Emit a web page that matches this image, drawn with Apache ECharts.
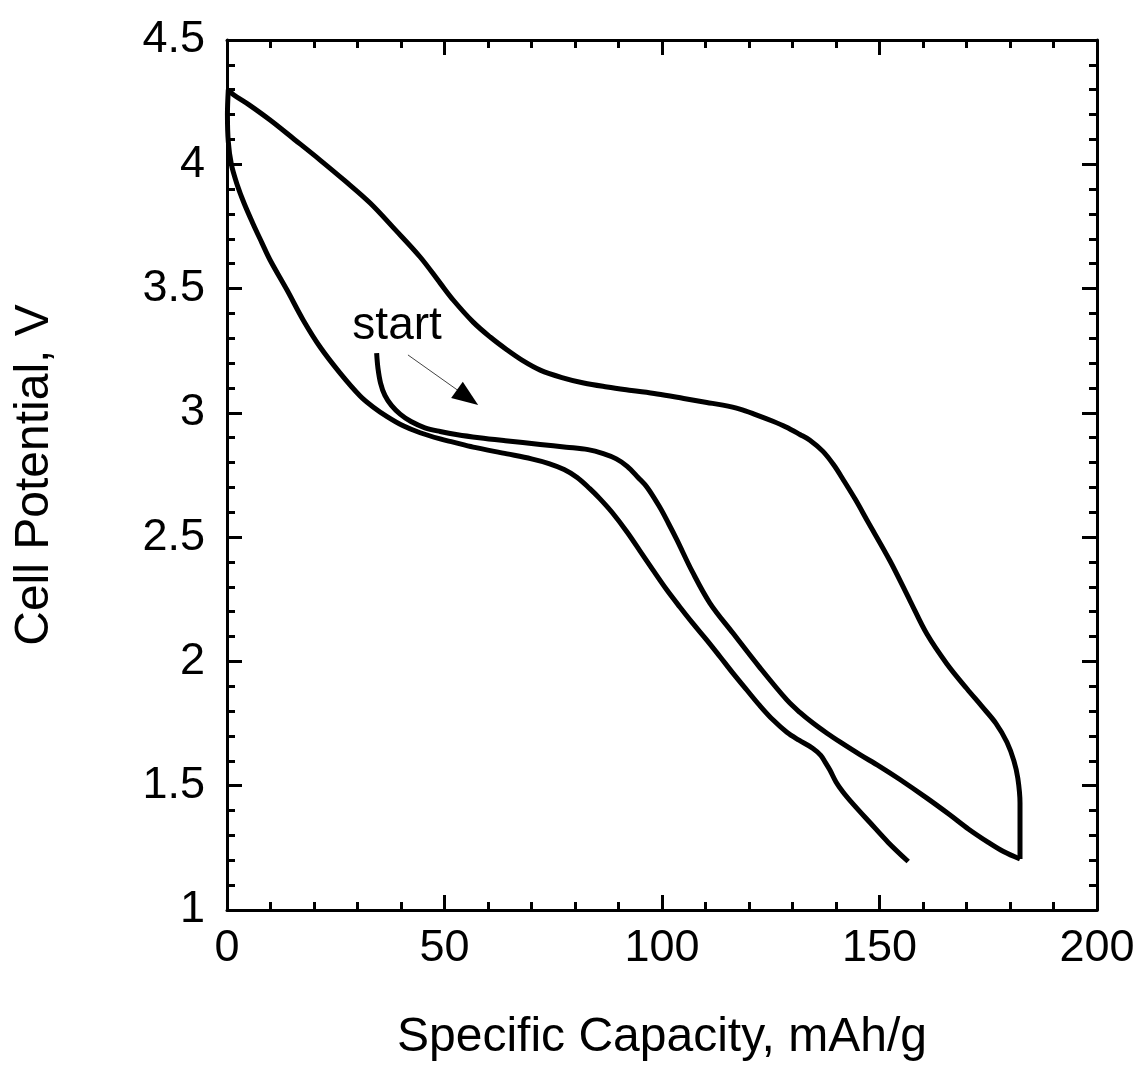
<!DOCTYPE html>
<html>
<head>
<meta charset="utf-8">
<script src="https://cdn.jsdelivr.net/npm/echarts@6/dist/echarts.min.js"></script>
<style>
html,body{margin:0;padding:0;background:#fff;}
#chart{width:1143px;height:1067px;}
</style>
</head>
<body>
<div id="chart"></div>
<script>
// First discharge (from "start")
const discharge1 = [
  [34.4,3.24],[34.7,3.18],[35.3,3.12],[36.3,3.07],[37.8,3.03],[39.8,2.995],[42.3,2.965],[45.5,2.94],
  [49,2.925],[53,2.912],[58,2.90],[64,2.888],[72,2.873],[78,2.862],[83,2.852],[86.5,2.836],[89.5,2.815],
  [92,2.785],[94.5,2.74],[96.6,2.70],[99.5,2.62],[101.5,2.555],[103.4,2.49],[107,2.36],[111,2.235],[116.3,2.114],
  [122.5,1.975],[128.7,1.845],[131.7,1.795],[134.7,1.752],[138,1.71],[141,1.675],[145.5,1.625],[150,1.578],
  [154.7,1.525],[160.9,1.45],[166,1.385],[170.5,1.325],[175,1.272],[178.5,1.235],[182.3,1.205]
];
// Charge
const charge = [
  [182.3,1.205],[182.3,1.30],[182.3,1.43],[181.8,1.53],[180.9,1.60],[179.3,1.675],[176.8,1.75],[173.5,1.82],
  [170.1,1.89],[165.5,1.99],[160.9,2.11],[157,2.245],[152.4,2.405],[147.1,2.569],[144.5,2.65],[141.7,2.73],
  [139.5,2.79],[137,2.845],[134,2.89],[131.7,2.913],[128.5,2.943],[125.5,2.966],[121.5,2.993],[117.9,3.015],
  [114,3.031],[110.3,3.042],[105,3.058],[98.9,3.076],[93,3.09],[87.4,3.104],[82,3.12],[77,3.142],[72,3.172],
  [68,3.21],[64.4,3.253],[60.5,3.305],[56.6,3.365],[52,3.454],[49,3.522],[44.4,3.627],[38.5,3.74],[32.9,3.844],
  [27,3.935],[21.4,4.017],[15.5,4.10],[9.9,4.178],[5,4.24],[1.5,4.28],[0.3,4.30]
];
// Second discharge
const discharge2 = [
  [0.3,4.30],[0.1,4.2],[0.3,4.09],[1,4.0],[2.3,3.92],[4,3.84],[6,3.76],[8,3.685],[9.9,3.615],[13.8,3.494],
  [17.5,3.374],[21.4,3.265],[26,3.16],[30.6,3.068],[33.5,3.025],[36.8,2.985],[40.5,2.948],[44.4,2.92],[49,2.895],
  [52,2.882],[56.6,2.862],[64.4,2.835],[70,2.815],[74,2.796],[77.5,2.772],[80.5,2.74],[83.4,2.695],[85.7,2.655],
  [88.5,2.60],[92,2.52],[95,2.443],[97.9,2.368],[101,2.29],[104.1,2.219],[107,2.155],[110.3,2.086],[113.3,2.02],
  [116.3,1.953],[119.5,1.885],[122.5,1.822],[125.5,1.765],[128.7,1.715],[131.5,1.683],[134.7,1.65],[136.5,1.622],
  [137.5,1.595],[138.6,1.563],[140,1.515],[141.6,1.475],[144,1.425],[147.8,1.352],[152,1.272],[156.6,1.195]
];
// Annotation
const startLabel = ['start', 39.1, 3.35];
const arrowShaft = [[41.6,3.233],[53.6,3.084]];
const arrowHead = [55.3,3.062];

const xTitle = 'Specific Capacity, mAh/g';
const yTitle = 'Cell Potential, V';

const FONT = 'Liberation Sans, Arial, Helvetica, sans-serif';
const chart = echarts.init(document.getElementById('chart'), null, {renderer:'canvas'});

const tickCommon = {inside:true, length:15, lineStyle:{color:'#000', width:3}};
const minorCommon = {show:true, splitNumber:5, length:8, lineStyle:{color:'#000', width:3}};

function lineSeries(name, data, extra) {
  return Object.assign({
    name, type:'line', data, symbol:'none', smooth:0.35,
    lineStyle:{color:'#000', width:5, join:'round'},
    xAxisIndex:0, yAxisIndex:0, animation:false, z:3
  }, extra || {});
}

chart.setOption({
  backgroundColor:'#fff',
  animation:false,
  grid:{left:227, right:46, top:40, bottom:157, containLabel:false},
  xAxis:[
    {type:'value', min:0, max:200, interval:50, position:'bottom',
     name:xTitle, nameLocation:'middle', nameGap:104,
     nameTextStyle:{fontFamily:FONT, fontSize:48, color:'#000'},
     axisLine:{show:true, onZero:false, lineStyle:{color:'#000', width:3}},
     axisTick:tickCommon, minorTick:minorCommon,
     axisLabel:{fontFamily:FONT, fontSize:45, color:'#000', margin:16},
     splitLine:{show:false}},
    {type:'value', min:0, max:200, interval:50, position:'top',
     axisLine:{show:true, onZero:false, lineStyle:{color:'#000', width:3}},
     axisTick:tickCommon, minorTick:minorCommon,
     axisLabel:{show:false}, splitLine:{show:false}}
  ],
  yAxis:[
    {type:'value', min:1, max:4.5, interval:0.5, position:'left',
     name:yTitle, nameLocation:'middle', nameGap:168, nameRotate:90,
     nameTextStyle:{fontFamily:FONT, fontSize:48, color:'#000'},
     axisLine:{show:true, onZero:false, lineStyle:{color:'#000', width:3}},
     axisTick:tickCommon, minorTick:minorCommon,
     axisLabel:{fontFamily:FONT, fontSize:45, color:'#000', margin:22},
     splitLine:{show:false}},
    {type:'value', min:1, max:4.5, interval:0.5, position:'right',
     axisLine:{show:true, onZero:false, lineStyle:{color:'#000', width:3}},
     axisTick:tickCommon, minorTick:minorCommon,
     axisLabel:{show:false}, splitLine:{show:false}}
  ],
  series:[
    lineSeries('discharge1', discharge1, {
      markLine:{
        silent:true, symbol:['none','none'], animation:false,
        label:{show:false},
        lineStyle:{color:'#444', width:1, type:'solid'},
        data:[[{coord:arrowShaft[0]},{coord:arrowShaft[1]}]]
      },
      markPoint:{
        silent:true, animation:false,
        data:[
          {coord:[startLabel[1], startLabel[2]], symbol:'circle', symbolSize:1,
           itemStyle:{color:'rgba(0,0,0,0)'},
           label:{show:true, position:'inside', formatter:startLabel[0], fontFamily:FONT, fontSize:46, color:'#000'}},
          {coord:arrowHead, symbol:'triangle', symbolSize:[20,26], symbolRotate:-125.5,
           itemStyle:{color:'#000'}, label:{show:false}}
        ]
      }
    }),
    lineSeries('charge', charge),
    lineSeries('discharge2', discharge2)
  ]
});
</script>
</body>
</html>
